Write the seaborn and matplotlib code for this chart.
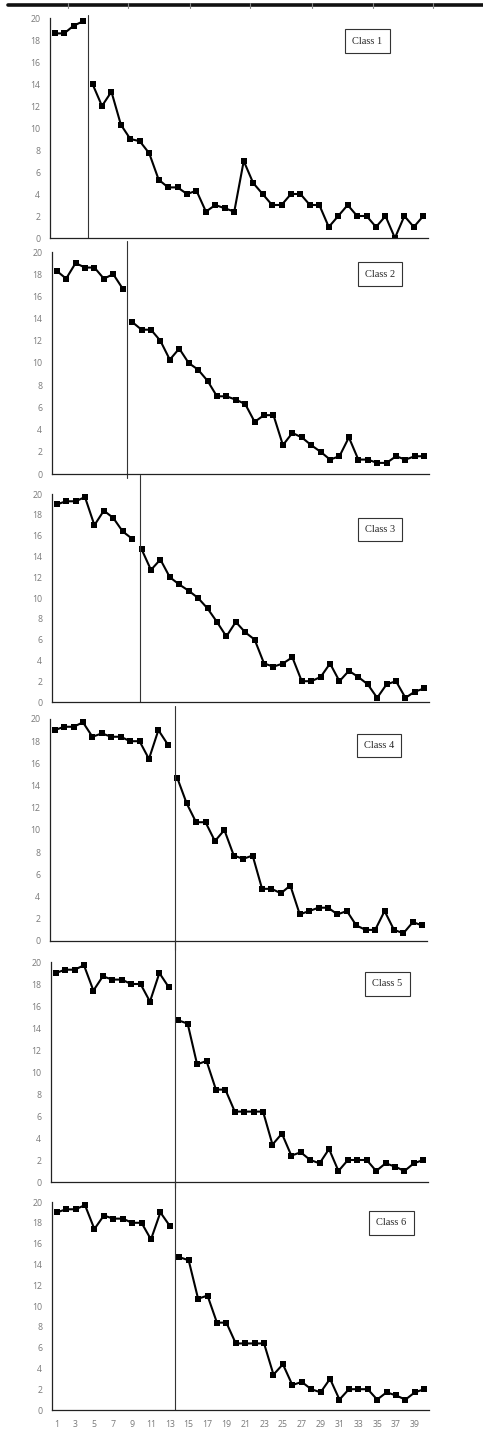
import numpy as np
import pandas as pd
import matplotlib
matplotlib.use("Agg")
import matplotlib.pyplot as plt
from matplotlib.lines import Line2D
import seaborn as sns

# values (40 sessions each)
sessions = list(range(1, 41))
class1 = [18.6, 18.6, 19.3, 19.7,
          14.0, 12.0, 13.3, 10.3, 9.0, 8.8, 7.7, 5.3, 4.6, 4.6, 4.0, 4.3, 2.4, 3.0, 2.7, 2.4,
          7.0, 5.0, 4.0, 3.0, 3.0, 4.0, 4.0, 3.0, 3.0, 1.0, 2.0, 3.0, 2.0, 2.0, 1.0, 2.0,
          0.0, 2.0, 1.0, 2.0]
class2 = [18.3, 17.6, 19.0, 18.6, 18.6, 17.6, 18.0, 16.7,
          13.7, 13.0, 13.0, 12.0, 10.3, 11.3, 10.0, 9.4, 8.4, 7.0, 7.0, 6.7, 6.3, 4.7,
          5.3, 5.3, 2.6, 3.7, 3.3, 2.6, 2.0, 1.3, 1.6, 3.3, 1.3, 1.3, 1.0, 1.0, 1.6, 1.3,
          1.6, 1.6]
class3 = [19.0, 19.3, 19.3, 19.7, 17.0, 18.4, 17.7, 16.4, 15.7,
          14.7, 12.7, 13.7, 12.0, 11.3, 10.7, 10.0, 9.0, 7.7, 6.3, 7.7, 6.7, 6.0, 3.7,
          3.4, 3.7, 4.3, 2.0, 2.0, 2.4, 3.7, 2.0, 3.0, 2.4, 1.7, 0.4, 1.7, 2.0, 0.4, 1.0, 1.3]
class4 = [19.0, 19.3, 19.3, 19.7, 18.4, 18.7, 18.4, 18.4, 18.0, 18.0, 16.4, 19.0, 17.7,
          14.7, 12.4, 10.7, 10.7, 9.0, 10.0, 7.7, 7.4, 7.7, 4.7, 4.7, 4.3, 5.0, 2.4, 2.7,
          3.0, 3.0, 2.4, 2.7, 1.4, 1.0, 1.0, 2.7, 1.0, 0.7, 1.7, 1.4]
class5 = [19.0, 19.3, 19.3, 19.7, 17.4, 18.7, 18.4, 18.4, 18.0, 18.0, 16.4, 19.0, 17.7,
          14.7, 14.4, 10.7, 11.0, 8.4, 8.4, 6.4, 6.4, 6.4, 6.4, 3.4, 4.4, 2.4, 2.7, 2.0,
          1.7, 3.0, 1.0, 2.0, 2.0, 2.0, 1.0, 1.7, 1.4, 1.0, 1.7, 2.0]
class6 = [19.0, 19.3, 19.3, 19.7, 17.4, 18.7, 18.4, 18.4, 18.0, 18.0, 16.4, 19.0, 17.7,
          14.7, 14.4, 10.7, 11.0, 8.4, 8.4, 6.4, 6.4, 6.4, 6.4, 3.4, 4.4, 2.4, 2.7, 2.0,
          1.7, 3.0, 1.0, 2.0, 2.0, 2.0, 1.0, 1.7, 1.4, 1.0, 1.7, 2.0]
class_names = ["Class 1", "Class 2", "Class 3", "Class 4", "Class 5", "Class 6"]
phase_change = [4.5, 8.5, 9.8, 13.75, 13.7, 13.6]
label_pos = [(34.1, 17.9), (35.3, 18.0), (35.3, 16.6), (35.4, 17.6), (36.2, 18.0), (36.5, 18.0)]
y_ticks = list(range(0, 21, 2))
x_ticks = list(range(1, 40, 2))

series = [class1, class2, class3, class4, class5, class6]
frames = []
for name, vals, cut in zip(class_names, series, phase_change):
    d = pd.DataFrame({"session": sessions, "value": vals, "cls": name})
    d["phase"] = np.where(d.session < cut, "baseline", "treatment")
    frames.append(d)
df = pd.concat(frames, ignore_index=True)

sns.set_theme(style="white")
plt.rcParams["font.family"] = ["Open Sans", "DejaVu Sans"]

W, H = 483, 1431
fig = plt.figure(figsize=(W / 100, H / 100), dpi=100)

# panel boxes in pixels: left, right, top, bottom
boxes = [(50, 428, 18, 238), (52, 429, 252, 474), (52, 429, 494, 702),
         (50, 427, 719, 941), (51, 428, 962, 1182), (52, 429, 1202, 1410)]
# vertical extent of each phase line in axes fraction
vspan = [(0, 1.014), (-0.02, 1.05), (0, 1.09), (-0.04, 1.06), (-0.027, 1.1), (0, 1.1)]

for i, name in enumerate(class_names):
    l, r, t, b = boxes[i]
    ax = fig.add_axes([l / W, 1 - b / H, (r - l) / W, (b - t) / H])
    sub = df[df.cls == name]
    sns.lineplot(data=sub, x="session", y="value", units="phase", estimator=None,
                 ax=ax, color="black", linewidth=1.5, marker="s", markersize=3.8,
                 markeredgewidth=0)
    ax.set_xlim(0.5, 40.5)
    ax.set_ylim(0, 20)
    ax.set_yticks(y_ticks)
    ax.tick_params(axis="both", length=0, labelsize=6.3, labelcolor="#7a7a7a", pad=7)
    if i == 5:
        ax.set_xticks(x_ticks)
    else:
        ax.set_xticks([])
    ax.set_xlabel("")
    ax.set_ylabel("")
    for s in ["top", "right"]:
        ax.spines[s].set_visible(False)
    for s in ["left", "bottom"]:
        ax.spines[s].set_color("#222222")
        ax.spines[s].set_linewidth(0.9)
    ax.axvline(phase_change[i], ymin=vspan[i][0], ymax=vspan[i][1],
               color="#333333", linewidth=0.8, clip_on=False)
    ax.text(label_pos[i][0], label_pos[i][1], name, ha="center", va="center",
            fontsize=7.5, family=["Liberation Serif", "DejaVu Serif"],
            bbox=dict(boxstyle="square,pad=0.7", facecolor="white",
                      edgecolor="#333333", linewidth=0.8))

# leftover border strip from the page at the very top
fig.add_artist(Line2D([8 / W, 1], [1 - 5 / H, 1 - 5 / H], color="#111111",
                      linewidth=2.6, transform=fig.transFigure))
for xp in [68, 128, 190, 250, 312, 373, 433]:
    fig.add_artist(Line2D([xp / W, xp / W], [1 - 3 / H, 1 - 8 / H], color="#888888",
                          linewidth=0.8, transform=fig.transFigure))

fig.savefig("out.png", dpi=100, facecolor="white")
